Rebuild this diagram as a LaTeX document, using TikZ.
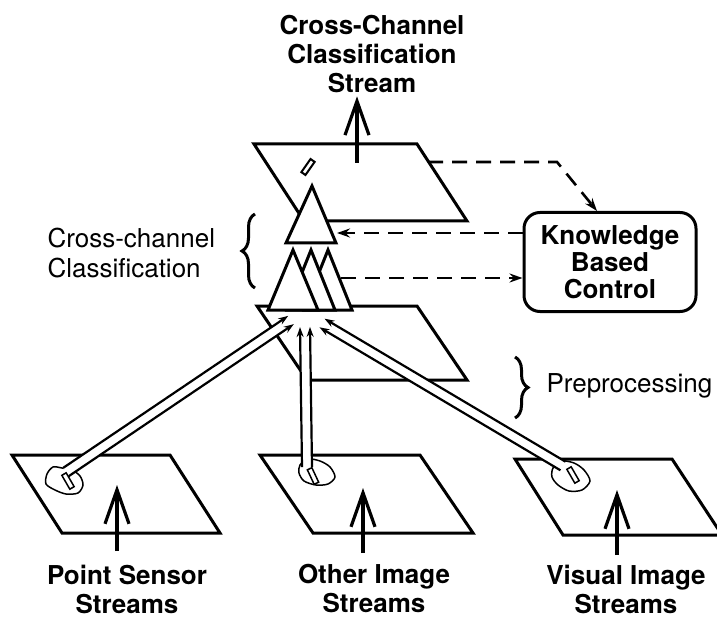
\documentclass[tikz,border=0pt]{standalone}
\usepackage{fontspec}
\setmainfont{TeX Gyre Heros}
\usetikzlibrary{arrows.meta, calc, decorations.pathreplacing}

\begin{document}
\begin{tikzpicture}[x=1pt, y=-1pt,
    plane/.style={line width=3pt},
    tri/.style={line width=3pt, fill=white},
    rail/.style={line width=2.2pt, -{Stealth[length=10pt, width=7pt]}},
    blob/.style={line width=1.5pt},
    ctrl/.style={line width=2.6pt, dash pattern=on 15pt off 9pt},
    ctrltip/.style={-{Stealth[length=13pt, width=9pt]}},
    stream/.style={line width=3.6pt, -{Straight Barb[length=34pt, width=24pt, line width=3.2pt]}},
    brc/.style={line width=3pt, decorate, decoration={brace, amplitude=13pt}},
    lab/.style={font=\fontsize{26}{29}\selectfont, align=center},
    boldlab/.style={font=\fontsize{26}{29}\selectfont\bfseries, align=center}]
    \useasboundingbox (0,0) rectangle (717,620);

    % input planes and preprocessing / classification planes
    \draw [plane] (12,455) -- (170,455) -- (220,533) -- (62,533) -- cycle;
    \draw [plane] (260,455) -- (420,455) -- (473,533) -- (313,533) -- cycle;
    \draw [plane] (515,459) -- (672,459) -- (722,535) -- (563,535) -- cycle;
    \draw [plane] (257,306) -- (417,306) -- (467,380) -- (307,380) -- cycle;
    \draw [plane] (254,144) -- (417,144) -- (467,221) -- (304,221) -- cycle;
    \draw [blob, line width=2pt, fill=white, shift={(308,167)}, rotate=55] (-8,-2.5) rectangle (8,2.5);

    % regions of interest
    \draw [blob, shift={(64,481)}] plot [smooth cycle, tension=0.5] coordinates {(-17,-7) (-11,-14) (-2,-13) (8,-11) (16,-5) (19,4) (14,12) (2,13) (-9,9) (-18,3)};
    \draw [blob, shift={(316,473)}] plot [smooth cycle, tension=0.5] coordinates {(-16,-8) (-8,-14) (4,-12) (14,-6) (19,4) (12,11) (0,12) (-12,8) (-17,0)};
    \draw [blob, shift={(570,476)}] plot [smooth cycle, tension=0.5] coordinates {(-17,-8) (-9,-15) (4,-13) (14,-6) (20,5) (12,14) (-1,15) (-12,9) (-18,1)};

    % streams up to the preprocessing plane
    \coordinate (ls) at (66,472);
    \coordinate (le) at (291,320);
    \coordinate (ms) at (307,467);
    \coordinate (me) at (305,327);
    \coordinate (rs) at (563,466);
    \coordinate (re) at (322,323);
    \foreach \s/\e in {ls/le, ms/me, rs/re} {
        \fill [white] ($(\s)!5pt!90:(\e)$) -- ($(\e)!5pt!-90:(\s)$) -- ($(\e)!5pt!90:(\s)$) -- ($(\s)!5pt!-90:(\e)$) -- cycle;
        \draw [rail] ($(\s)!5pt!90:(\e)$) -- ($(\e)!5pt!-90:(\s)$);
        \draw [rail] ($(\s)!5pt!-90:(\e)$) -- ($(\e)!5pt!90:(\s)$);
    }
    \draw [blob, fill=white, shift={(68,481)}, rotate=-60] (-8,-2.5) rectangle (8,2.5);
    \draw [blob, fill=white, shift={(313,476)}, rotate=-65] (-8,-2.5) rectangle (8,2.5);
    \draw [blob, fill=white, shift={(573,475)}, rotate=-60] (-8,-2.5) rectangle (8,2.5);

    % classifiers
    \draw [tri] (328,250) -- (352,310) -- (304,310) -- cycle;
    \draw [tri] (311,250) -- (335,310) -- (287,310) -- cycle;
    \draw [tri] (293,250) -- (318,310) -- (268,310) -- cycle;
    \draw [tri] (312,186) -- (336,243) -- (286,243) -- cycle;

    % control
    \node [draw, line width=3pt, rounded corners=16pt, minimum width=172pt, minimum height=99pt,
           font=\fontsize{26}{27}\selectfont\bfseries, align=center] (kbc) at (610,262) {Knowledge\\Based\\Control};
    \coordinate (d1) at (428,162);
    \coordinate (a2) at (337,233);
    \coordinate (a3) at (341,278);
    \draw [ctrl, ctrltip] (d1) -- (557,162) -- ([xshift=-13pt]kbc.north);
    \draw [ctrl, ctrltip] (kbc.west |- a2) -- (a2);
    \draw [ctrl, ctrltip] (a3) -- (kbc.west |- a3);

    % labels
    \node [boldlab] (ccs) at (372,54) {Cross-Channel\\Classification\\Stream};
    \node [boldlab, inner sep=0pt] (ps) at (127,589) {Point Sensor\\Streams};
    \node [boldlab, inner sep=0pt] (oi) at (374,589) {Other Image\\Streams};
    \node [boldlab, inner sep=0pt] (vi) at (626,589) {Visual Image\\Streams};
    \node [font=\fontsize{26}{30}\selectfont, align=left, anchor=west] (ccl) at (44,253) {Cross-channel\\Classification};
    \node [lab, anchor=west] (pre) at (543,386) {Preprocessing};
    \draw [brc] (255,288) -- (255,214);
    \draw [brc] (515,357) -- (515,418);

    % stream arrows
    \coordinate (tk) at (357,163);
    \coordinate (pa) at (117,551);
    \coordinate (oa) at (363,553);
    \coordinate (va) at (617,555);
    \draw [stream] (tk) -- (ccs.south -| tk);
    \draw [stream] (pa) -- ++(0,-66);
    \draw [stream] (oa) -- ++(0,-65);
    \draw [stream] (va) -- ++(0,-65);
\end{tikzpicture}
\end{document}
